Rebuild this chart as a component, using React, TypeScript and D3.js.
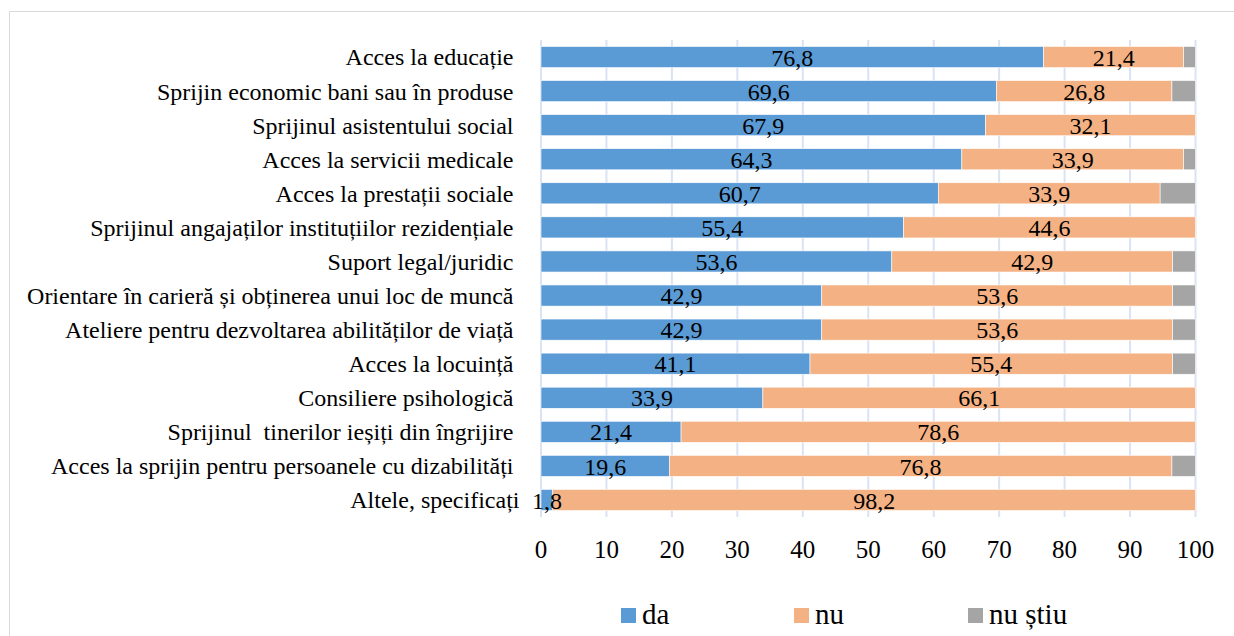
import React from "react";
import * as d3 from "d3";

const categories = [
  "Acces la educație ",
  "Sprijin economic bani sau în produse ",
  "Sprijinul asistentului social ",
  "Acces la servicii medicale ",
  "Acces la prestații sociale ",
  "Sprijinul angajaților instituțiilor rezidențiale ",
  "Suport legal/juridic ",
  "Orientare în carieră și obținerea unui loc de muncă ",
  "Ateliere pentru dezvoltarea abilităților de viață ",
  "Acces la locuință ",
  "Consiliere psihologică ",
  "Sprijinul  tinerilor ieșiți din îngrijire ",
  "Acces la sprijin pentru persoanele cu dizabilități ",
  "Altele, specificați",
];
const da = [76.8, 69.6, 67.9, 64.3, 60.7, 55.4, 53.6, 42.9, 42.9, 41.1, 33.9, 21.4, 19.6, 1.8];
const nu = [21.4, 26.8, 32.1, 33.9, 33.9, 44.6, 42.9, 53.6, 53.6, 55.4, 66.1, 78.6, 76.8, 98.2];
const nuStiu = [1.8, 3.6, 0, 1.8, 5.4, 0, 3.5, 3.5, 3.5, 3.5, 0, 0, 3.6, 0];
const seriesNames = ["da", "nu", "nu știu"];
const seriesValues = [da, nu, nuStiu];
const seriesColors = ["#5b9bd5", "#f4b183", "#a5a5a5"];
const xTicks = [0, 10, 20, 30, 40, 50, 60, 70, 80, 90, 100];

const fmt = (v: number) => v.toFixed(1).replace(".", ",");

export default function App() {
  const W = 1234;
  const H = 636;
  const x = d3.scaleLinear().domain([0, 100]).range([541, 1195.5]);
  const y = d3
    .scaleBand<string>()
    .domain(categories)
    .range([40, 517])
    .paddingInner(0.38)
    .paddingOuter(0.19);
  const font = "Liberation Serif, DejaVu Serif, serif";

  const rows = categories.map((c, i) => {
    let acc = 0;
    const segs = seriesValues.map((vals, s) => {
      const x0 = acc;
      acc += vals[i];
      return { s, x0, x1: acc, v: vals[i] };
    });
    return { c, i, segs };
  });

  const legendX = [621, 794, 968];

  return (
    <svg
      width={W}
      height={H}
      style={{ position: "absolute", left: 0, top: 0, background: "#fff", fontFamily: font }}
    >
      <rect x={0} y={0} width={W} height={H} fill="#fff" />
      <line x1={9.5} y1={11.5} x2={W} y2={11.5} stroke="#d9d9d9" strokeWidth={1} />
      <line x1={9.5} y1={11.5} x2={9.5} y2={H} stroke="#d9d9d9" strokeWidth={1} />
      {xTicks.map((t) => (
        <line
          key={"g" + t}
          x1={x(t)}
          x2={x(t)}
          y1={40}
          y2={517}
          stroke="#dae3f3"
          strokeWidth={2}
        />
      ))}
      {rows.map((r) => (
        <g key={r.c}>
          {r.segs
            .filter((sg) => sg.v > 0)
            .map((sg) => (
              <rect
                key={sg.s}
                x={x(sg.x0)}
                y={y(r.c)!}
                width={x(sg.x1) - x(sg.x0)}
                height={y.bandwidth()}
                fill={seriesColors[sg.s]}
                stroke="#fff"
                strokeWidth={0.6}
              />
            ))}
          {r.segs
            .filter((sg) => sg.s < 2 && sg.v > 0)
            .map((sg) => (
              <text
                key={"t" + sg.s}
                x={(x(sg.x0) + x(sg.x1)) / 2}
                y={y(r.c)! + y.bandwidth() / 2}
                dy="0.36em"
                textAnchor="middle"
                fontSize={24}
                fill="#000"
              >
                {fmt(sg.v)}
              </text>
            ))}
          <text
            x={519.5}
            y={y(r.c)! + y.bandwidth() / 2}
            dy="0.35em"
            textAnchor="end"
            fontSize={24}
            fill="#000"
            style={{ whiteSpace: "pre" }}
          >
            {r.c}
          </text>
        </g>
      ))}
      {xTicks.map((t) => (
        <text
          key={"t" + t}
          x={x(t)}
          y={558}
          textAnchor="middle"
          fontSize={25}
          fill="#000"
        >
          {t}
        </text>
      ))}
      {seriesNames.map((n, i) => (
        <g key={n}>
          <rect x={legendX[i]} y={608} width={15} height={15} fill={seriesColors[i]} />
          <text x={legendX[i] + 21} y={624} fontSize={29} fill="#000" style={{ whiteSpace: "pre" }}>
            {n}
          </text>
        </g>
      ))}
    </svg>
  );
}
